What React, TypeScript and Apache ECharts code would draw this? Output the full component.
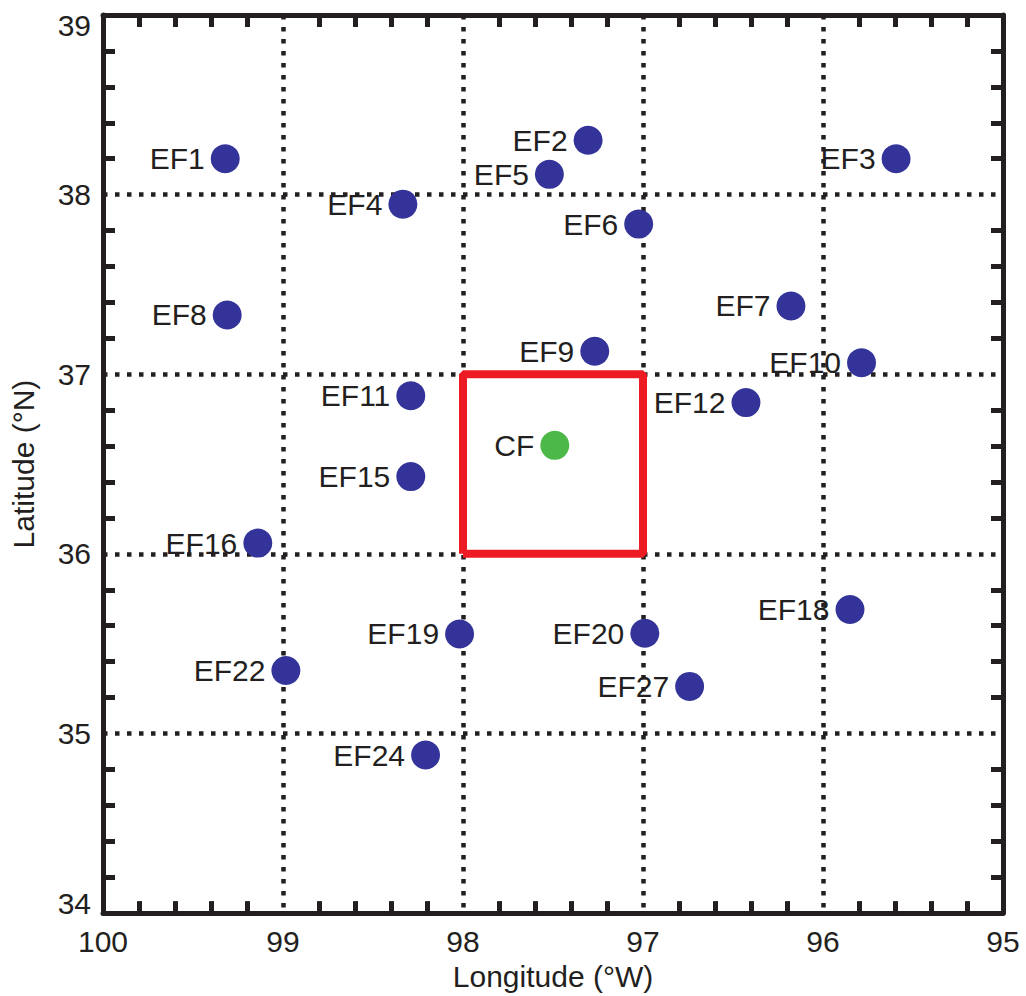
import React, { useEffect, useRef } from "react";
import * as echarts from "echarts";

const siteNames = ["EF1", "EF2", "EF3", "EF4", "EF5", "EF6", "EF7", "EF8", "EF9", "EF10", "EF11", "EF12", "EF15", "EF16", "EF18", "EF19", "EF20", "EF22", "EF24", "EF27"];
const siteLon = [99.321, 97.305, 95.594, 98.334, 97.52, 97.024, 96.178, 99.31, 97.268, 95.786, 98.29, 96.428, 98.29, 99.14, 95.85, 98.019, 96.99, 98.984, 98.208, 96.741];
const siteLat = [38.2, 38.303, 38.2, 37.947, 38.113, 37.836, 37.38, 37.33, 37.128, 37.064, 36.88, 36.842, 36.43, 36.06, 35.69, 35.554, 35.558, 35.351, 34.88, 35.262];

const centralName = ["CF"];
const centralLon = [97.49];
const centralLat = [36.604];

const boxLon = [98, 98, 97, 97, 98];
const boxLat = [36, 37, 37, 36, 36];

const FONT = "'Liberation Sans', Arial, Helvetica, sans-serif";
const INK = "#231f20";

export default function App() {
  const ref = useRef<HTMLDivElement>(null);
  useEffect(() => {
    if (!ref.current) return;
    const chart = echarts.init(ref.current, undefined, { renderer: "svg" });
    const axisLine = { show: true, onZero: false, lineStyle: { color: INK, width: 5 } };
    const minorTick = { show: true, splitNumber: 5, length: 12, lineStyle: { color: INK, width: 5 } };
    const splitLine = { show: true, lineStyle: { color: INK, width: 4.5, type: [4.5, 7.5] } };
    const labelStyle = { fontSize: 30, fontFamily: FONT, color: INK };
    chart.setOption({
      animation: false,
      backgroundColor: "#ffffff",
      grid: { left: 102, right: 23, top: 15, bottom: 79, containLabel: false },
      xAxis: [
        {
          type: "value", position: "bottom", min: 95, max: 100, interval: 1, inverse: true,
          axisLine, axisTick: { show: false, inside: true }, minorTick, splitLine,
          axisLabel: { ...labelStyle, margin: 13 },
          name: "Longitude (°W)", nameLocation: "middle", nameGap: 43,
          nameTextStyle: { ...labelStyle },
        },
        {
          type: "value", position: "top", min: 95, max: 100, interval: 1, inverse: true,
          axisLine, axisTick: { show: false, inside: true }, minorTick,
          splitLine: { show: false }, axisLabel: { show: false },
        },
      ],
      yAxis: [
        {
          type: "value", position: "left", min: 34, max: 39, interval: 1,
          axisLine, axisTick: { show: false, inside: true }, minorTick, splitLine,
          axisLabel: {
            ...labelStyle, margin: 12, lineHeight: 20,
            verticalAlignMinLabel: "bottom", verticalAlignMaxLabel: "top",
          },
          name: "Latitude (°N)", nameLocation: "middle", nameGap: 65,
          nameTextStyle: { ...labelStyle },
        },
        {
          type: "value", position: "right", min: 34, max: 39, interval: 1,
          axisLine, axisTick: { show: false, inside: true }, minorTick,
          splitLine: { show: false }, axisLabel: { show: false },
        },
      ],
      series: [
        {
          type: "line",
          data: boxLon.map((x, i) => [x, boxLat[i]]),
          symbol: "none",
          lineStyle: { color: "#ed1c24", width: 8 },
          silent: true,
          z: 3,
        },
        {
          type: "scatter",
          data: siteLon.map((x, i) => [x, siteLat[i], siteNames[i]]),
          symbolSize: 29,
          itemStyle: { color: "#333399", opacity: 1 },
          label: {
            show: true, position: "left", distance: 6,
            formatter: (p: any) => p.data[2],
            ...labelStyle,
          },
          z: 5,
        },
        {
          type: "scatter",
          data: centralLon.map((x, i) => [x, centralLat[i], centralName[i]]),
          symbolSize: 29,
          itemStyle: { color: "#4cb848", opacity: 1 },
          label: {
            show: true, position: "left", distance: 6,
            formatter: (p: any) => p.data[2],
            ...labelStyle,
          },
          z: 5,
        },
      ],
    });
    return () => chart.dispose();
  }, []);
  return (
    <div
      ref={ref}
      style={{ position: "fixed", left: 0, top: 0, width: 1026, height: 996, background: "#fff" }}
    />
  );
}
